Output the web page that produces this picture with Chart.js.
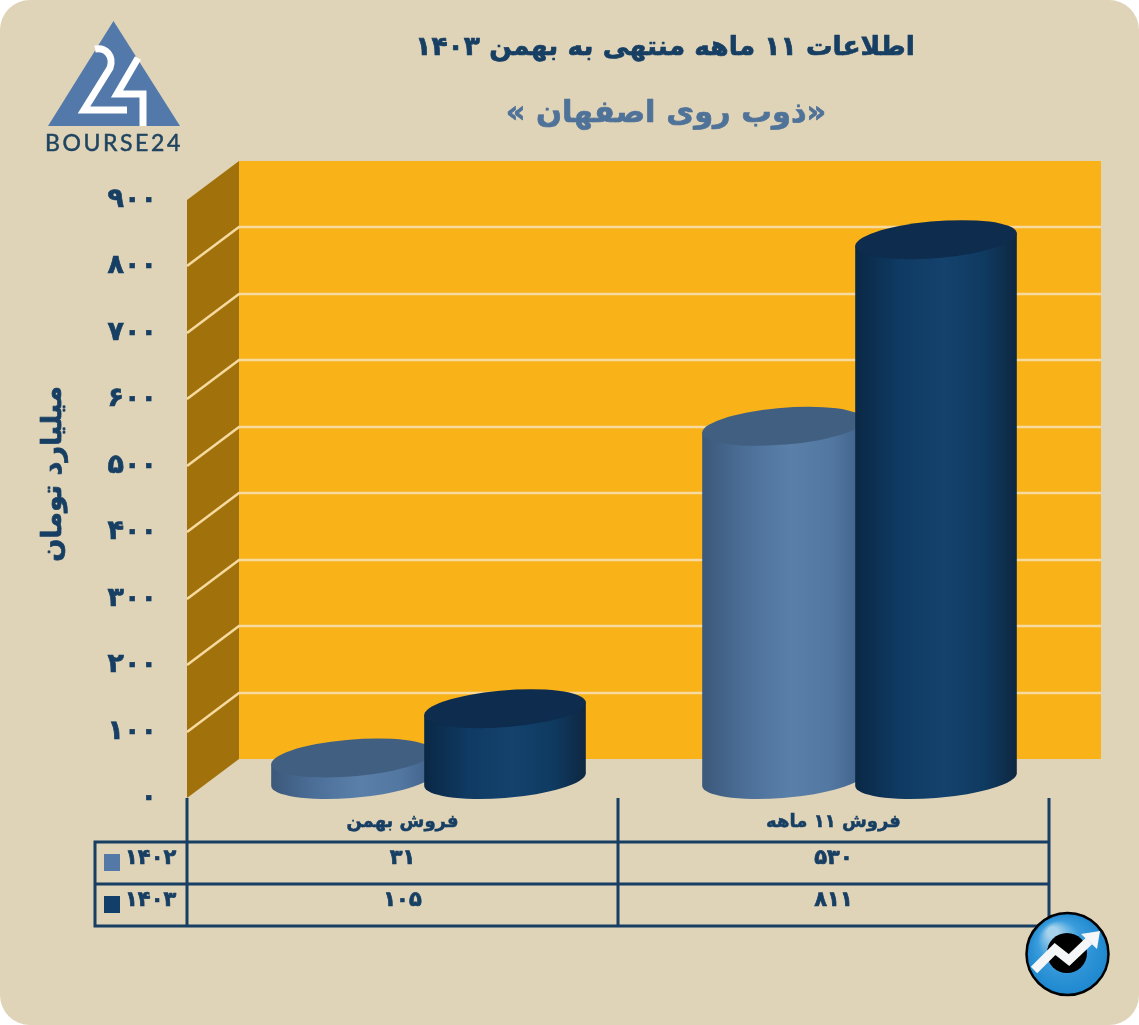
<!DOCTYPE html>
<html lang="fa"><head><meta charset="utf-8">
<style>
html,body{margin:0;padding:0;background:#fff;width:1139px;height:1025px;overflow:hidden}
#wrap{width:1139px;height:1025px;background:#dfd3b8;border-radius:30px;overflow:hidden}
canvas{display:block}
</style>
<script src="https://cdn.jsdelivr.net/npm/chart.js@4"></script>
</head><body><div id="wrap"><canvas id="c" width="1139" height="1025"></canvas></div>
<script>
const categories = ['فروش بهمن', 'فروش ۱۱ ماهه'];
const seriesNames = ['۱۴۰۲', '۱۴۰۳'];
const sales1402 = [31, 530];
const sales1403 = [105, 811];
const yMax = 900, yStep = 100;
const titleText = 'اطلاعات ۱۱ ماهه منتهی به بهمن ۱۴۰۳';
const subtitleText = '\u00ABذوب روی اصفهان \u00BB';
const yAxisTitle = 'میلیارد تومان';
const FONT = '"DejaVu Sans"';
const NAVY = '#173f63', LIGHT = '#5479a6', DARK = '#123f69';
const DEPTH_X = 52, DEPTH_Y = 39;
const shades = {
  [LIGHT]: {top:'#415f81', stops:['#3c587a','#4c6f98','#5a80a9','#5277a1','#40618a']},
  [DARK]:  {top:'#0d2c4e', stops:['#0a2845','#0f3a62','#14426d','#0f3a60','#0e2741']}
};
const fa = v => String(v).replace(/\d/g, d => '۰۱۲۳۴۵۶۷۸۹'[d]);

// bars are drawn as oblique cylinders standing in the middle of the floor depth
Chart.BarElement.prototype.draw = function (ctx) {
  const a = this.width / 2, dx = DEPTH_X / 2, dy = DEPTH_Y / 2;
  const cx = this.x + dx, top = this.y - dy, bot = this.base - dy + 1;
  const s = shades[this.options.backgroundColor] || shades[DARK];
  const t0 = Math.atan2(dx, a), half = Math.hypot(a, dx);
  const skew = dy * Math.sin(t0);
  const arc = (cy, from, to, ccw) => {
    ctx.save(); ctx.transform(a, 0, dx, -dy, cx, cy);
    ctx.arc(0, 0, 1, from, to, ccw); ctx.restore();
  };
  const g = ctx.createLinearGradient(cx - half, 0, cx + half, 0);
  [0, .27, .55, .8, 1].forEach((p, i) => g.addColorStop(p, s.stops[i]));
  ctx.save();
  ctx.beginPath();
  arc(bot, t0 - Math.PI, t0, false);
  ctx.lineTo(cx + half, top - skew);
  ctx.lineTo(cx - half, top + skew);
  ctx.closePath();
  ctx.fillStyle = g; ctx.fill();
  ctx.beginPath();
  arc(top, 0, Math.PI * 2, false);
  ctx.closePath();
  ctx.fillStyle = s.top; ctx.fill();
  ctx.restore();
};

function text(ctx, str, x, y, font, color, align) {
  ctx.font = font; ctx.fillStyle = color; ctx.strokeStyle = color;
  ctx.textAlign = align || 'center';
  ctx.textBaseline = 'middle'; ctx.direction = 'rtl';
  ctx.lineJoin = 'round'; ctx.lineWidth = .7;
  ctx.strokeText(str, x, y);
  ctx.fillText(str, x, y);
}

const scene = {
  id: 'scene',
  beforeDatasetsDraw(chart) {
    const {ctx, scales:{y}, chartArea:ca} = chart;
    const wallL = ca.left + DEPTH_X, wallR = 1101;
    const wallT = y.getPixelForValue(yMax) - DEPTH_Y, wallB = y.getPixelForValue(0) - DEPTH_Y;
    ctx.save();
    ctx.fillStyle = '#fab219'; ctx.fillRect(wallL, wallT, wallR - wallL, wallB - wallT);
    ctx.fillStyle = '#a1720c';
    ctx.beginPath();
    ctx.moveTo(ca.left, wallT + DEPTH_Y); ctx.lineTo(wallL, wallT);
    ctx.lineTo(wallL, wallB); ctx.lineTo(ca.left, wallB + DEPTH_Y);
    ctx.closePath(); ctx.fill();
    ctx.strokeStyle = '#f6daa0'; ctx.lineWidth = 2.5;
    y.ticks.forEach(t => {
      if (t.value <= 0 || t.value >= yMax) return;
      const py = Math.round(y.getPixelForValue(t.value));
      ctx.beginPath();
      ctx.moveTo(ca.left, py); ctx.lineTo(wallL, py - DEPTH_Y); ctx.lineTo(wallR, py - DEPTH_Y);
      ctx.stroke();
    });
    ctx.restore();
    // left-hand series first so the right-hand cylinder overlaps it
    chart.data.datasets.forEach((d, i) => chart.getDatasetMeta(i).controller.draw());
    return false;
  },
  afterDraw(chart) {
    const {ctx, scales:{x}, chartArea:ca} = chart;
    ctx.save();
    // axis title
    ctx.save(); ctx.translate(54, 474); ctx.rotate(-Math.PI / 2);
    text(ctx, yAxisTitle, 0, 0, `bold 27px ${FONT}`, NAVY);
    ctx.restore();
    // titles
    text(ctx, titleText, 665, 48, `bold 26.5px ${FONT}`, NAVY);
    text(ctx, subtitleText, 666, 114, `bold 30.5px ${FONT}`, '#4f7298');
    // data table
    const rowY = [842, 884, 926], tableL = 95;
    const colX = [ca.left, (ca.left + ca.right) / 2, ca.right];
    ctx.strokeStyle = NAVY; ctx.lineWidth = 3;
    ctx.beginPath();
    colX.forEach(cx => { ctx.moveTo(cx, ca.bottom); ctx.lineTo(cx, rowY[2]); });
    ctx.moveTo(tableL, rowY[0] - 1.5); ctx.lineTo(tableL, rowY[2] + 1.5);
    rowY.forEach(ry => { ctx.moveTo(tableL, ry); ctx.lineTo(ca.right, ry); });
    ctx.stroke();
    chart.data.datasets.forEach((d, r) => {
      const midY = rowY[r] + 17;
      ctx.fillStyle = d.backgroundColor; ctx.fillRect(104, rowY[r] + 12, 16, 17);
      text(ctx, d.label, 125, midY, `bold 21px ${FONT}`, NAVY, 'left');
      d.data.forEach((v, c) => text(ctx, fa(v), x.getPixelForValue(c), midY, `bold 21px ${FONT}`, NAVY));
    });
    drawLogo(ctx); drawBadge(ctx);
    ctx.restore();
  }
};

function drawLogo(ctx) {
  ctx.fillStyle = '#5279a9';
  ctx.beginPath(); ctx.moveTo(113.5, 21); ctx.lineTo(180, 126); ctx.lineTo(48, 126); ctx.closePath(); ctx.fill();
  ctx.strokeStyle = '#fff'; ctx.lineWidth = 7; ctx.lineJoin = 'miter';
  ctx.beginPath(); ctx.moveTo(95, 49);
  ctx.bezierCurveTo(106, 47, 114, 56, 110, 68);
  ctx.lineTo(84, 110); ctx.lineTo(127, 110); ctx.stroke();
  ctx.beginPath(); ctx.moveTo(138, 58); ctx.lineTo(117, 94); ctx.lineTo(143, 94); ctx.lineTo(143, 126); ctx.stroke();
  ctx.save();
  ctx.direction = 'ltr'; ctx.textAlign = 'left'; ctx.textBaseline = 'alphabetic';
  ctx.font = '23px Lato'; ctx.letterSpacing = '2.6px'; ctx.fillStyle = '#1f4460'; ctx.strokeStyle = '#1f4460'; ctx.lineWidth = .5;
  ctx.strokeText('BOURSE24', 45, 151);
  ctx.fillText('BOURSE24', 45, 151);
  ctx.restore();
}
function drawBadge(ctx) {
  const cx = 1067.5, cy = 954, r = 41;
  const g = ctx.createRadialGradient(cx - 15, cy - 22, 5, cx, cy, r);
  g.addColorStop(0, '#a6d2ec'); g.addColorStop(.45, '#3b9ddc'); g.addColorStop(1, '#1d87cf');
  ctx.fillStyle = g; ctx.strokeStyle = '#000'; ctx.lineWidth = 2.5;
  ctx.beginPath(); ctx.arc(cx, cy, r, 0, Math.PI * 2); ctx.fill(); ctx.stroke();
  ctx.fillStyle = '#000'; ctx.beginPath(); ctx.arc(1067, 953, 20, 0, Math.PI * 2); ctx.fill();
  ctx.strokeStyle = '#f4f6f7'; ctx.lineWidth = 9; ctx.lineJoin = 'miter';
  ctx.beginPath(); ctx.moveTo(1034, 970); ctx.lineTo(1055, 949); ctx.lineTo(1069, 960); ctx.lineTo(1089, 941); ctx.stroke();
  ctx.fillStyle = '#f4f6f7';
  ctx.beginPath(); ctx.moveTo(1081, 934); ctx.lineTo(1100, 931); ctx.lineTo(1097, 949); ctx.closePath(); ctx.fill();
}

new Chart(document.getElementById('c'), {
  type: 'bar',
  data: {
    labels: categories,
    datasets: [
      {label: seriesNames[0], data: sales1402, backgroundColor: LIGHT},
      {label: seriesNames[1], data: sales1403, backgroundColor: DARK}
    ]
  },
  options: {
    responsive: false, animation: false, events: [],
    layout: {padding: {left: 0, right: 90, top: 200, bottom: 0}},
    categoryPercentage: .71, barPercentage: 1,
    plugins: {legend: {display: false}, tooltip: {enabled: false}},
    scales: {
      y: {
        min: 0, max: yMax,
        ticks: {stepSize: yStep, padding: 22, color: NAVY, textStrokeColor: NAVY, textStrokeWidth: .7,
                font: {family: 'DejaVu Sans', size: 27, weight: 'bold'}, callback: v => fa(v)},
        grid: {display: false}, border: {display: false},
        afterFit(s) { s.width = 187; }
      },
      x: {
        ticks: {padding: 6, color: NAVY, textStrokeColor: NAVY, textStrokeWidth: .5, autoSkip: false, maxRotation: 0,
                font: {family: 'DejaVu Sans', size: 18, weight: 'bold'}},
        grid: {display: false}, border: {display: false},
        afterFit(s) { s.height = 227; }
      }
    }
  },
  plugins: [scene]
});
</script></body></html>
